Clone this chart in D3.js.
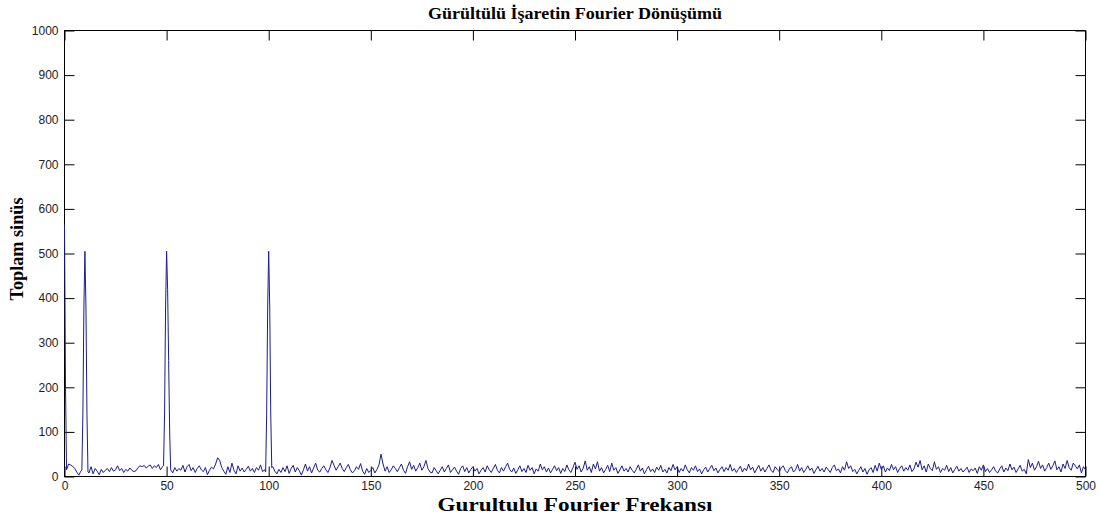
<!DOCTYPE html>
<html>
<head>
<meta charset="utf-8">
<script src="https://cdn.jsdelivr.net/npm/d3@7"></script>
<style>
  html, body { margin: 0; padding: 0; background: #fff; }
  svg { display: block; }
  .tick text { font-family: "Liberation Sans", Arial, sans-serif; font-size: 12px; fill: #222; }
</style>
</head>
<body>
<svg id="chart" width="1100" height="519"></svg>
<script>
// Noise floor of the spectrum, one value per Hz (0..500)
const noiseMagnitude = [
  20, 15, 28, 26, 23, 18, 10, 3, 12, 20, 20, 20, 8, 22, 6, 18, 12, 4, 16, 9, 14, 18, 11, 20, 12,
  15, 24, 13, 18, 9, 16, 12, 19, 14, 11, 13, 20, 24, 22, 25, 19, 23, 26, 18, 24, 20, 27, 15, 22, 25,
  20, 15, 15, 8, 20, 12, 18, 14, 25, 10, 22, 27, 13, 20, 9, 18, 24, 15, 11, 20, 4, 14, 21, 17, 28,
  42, 36, 20, 12, 5, 22, 9, 30, 14, 6, 24, 12, 19, 10, 16, 23, 12, 18, 9, 20, 14, 26, 11, 15, 10,
  20, 15, 22, 12, 6, 16, 9, 20, 11, 24, 7, 18, 25, 10, 20, 13, 3, 15, 28, 12, 22, 8, 19, 30, 14,
  10, 18, 24, 15, 9, 20, 36, 25, 14, 22, 30, 18, 11, 20, 27, 15, 8, 13, 22, 16, 29, 12, 5, 18, 9,
  14, 20, 8, 16, 26, 50, 28, 12, 22, 9, 15, 24, 18, 11, 20, 28, 14, 7, 22, 33, 16, 25, 12, 20, 30,
  14, 22, 36, 18, 10, 8, 20, 13, 6, 14, 22, 10, 18, 26, 9, 15, 21, 12, 5, 18, 24, 11, 20, 8, 16,
  22, 12, 18, 6, 14, 20, 10, 24, 15, 9, 18, 27, 14, 8, 20, 12, 22, 30, 16, 10, 19, 7, 15, 24, 11,
  18, 9, 25, 14, 20, 6, 17, 12, 28, 15, 22, 10, 19, 8, 16, 24, 13, 20, 7, 18, 11, 26, 15, 9, 20,
  32, 16, 24, 10, 18, 35, 14, 22, 9, 28, 17, 33, 12, 20, 8, 16, 25, 11, 30, 14, 20, 7, 15, 24, 12,
  18, 10, 22, 14, 8, 16, 26, 12, 19, 6, 15, 23, 11, 17, 9, 21, 14, 25, 10, 16, 8, 20, 13, 27, 15,
  22, 9, 18, 12, 26, 15, 8, 20, 14, 24, 11, 17, 6, 15, 21, 10, 18, 25, 13, 19, 8, 16, 22, 11, 20,
  14, 27, 12, 18, 9, 16, 23, 10, 19, 13, 28, 15, 21, 8, 17, 25, 12, 20, 10, 18, 26, 14, 9, 22, 16,
  11, 19, 24, 13, 8, 17, 22, 10, 15, 27, 12, 20, 9, 16, 24, 14, 19, 7, 15, 23, 12, 18, 10, 21, 15,
  9, 20, 26, 13, 17, 8, 22, 14, 33, 18, 24, 11, 16, 6, 14, 22, 10, 18, 5, 15, 20, 9, 25, 12, 30,
  16, 24, 10, 19, 13, 27, 15, 22, 9, 18, 24, 12, 20, 14, 26, 11, 17, 32, 21, 36, 15, 24, 10, 28, 18,
  13, 33, 16, 22, 9, 18, 14, 25, 11, 20, 8, 16, 23, 12, 18, 10, 15, 21, 9, 17, 13, 19, 7, 22, 14,
  26, 11, 18, 9, 15, 22, 12, 8, 17, 24, 10, 19, 13, 28, 15, 21, 9, 17, 25, 12, 16, 6, 38, 20, 30,
  14, 22, 34, 18, 26, 12, 20, 30, 16, 24, 35, 15, 22, 10, 28, 18, 36, 20, 14, 30, 24, 17, 26, 8, 22, 15
];

// Sinusoid peaks, sampled at half-Hz steps around each component
const peakFreqs = [
  [0, 0.5, 1],
  [8.5, 9, 9.5, 10, 10.5, 11, 11.5],
  [48.5, 49, 49.5, 50, 50.5, 51, 51.5, 52],
  [98.5, 99, 99.5, 100, 100.5, 101, 101.5]
];
const peakValues = [
  [565, 200, 15],
  [15, 140, 380, 505, 380, 140, 10],
  [25, 140, 380, 505, 420, 260, 100, 15],
  [10, 140, 380, 505, 380, 140, 20]
];

const xTicks = [0, 50, 100, 150, 200, 250, 300, 350, 400, 450, 500];
const yTicks = [0, 100, 200, 300, 400, 500, 600, 700, 800, 900, 1000];

const titleText = "Gürültülü İşaretin Fourier Dönüşümü";
const xLabelText = "Gurultulu Fourier Frekansı";
const yLabelText = "Toplam sinüs";

// Combine the noise floor with the peak samples into one sorted series
const peakRanges = peakFreqs.map(f => [d3.min(f), d3.max(f)]);
const series = [];
noiseMagnitude.forEach((v, i) => {
  if (!peakRanges.some(([a, b]) => i >= a && i <= b)) series.push([i, v]);
});
peakFreqs.forEach((f, k) => f.forEach((fx, j) => series.push([fx, peakValues[k][j]])));
series.sort((a, b) => a[0] - b[0]);

const svg = d3.select("#chart");
const plotLeft = 64.5, plotRight = 1085.5, plotTop = 30.5, plotBottom = 476.5;

const x = d3.scaleLinear().domain([0, 500]).range([plotLeft, plotRight]);
const y = d3.scaleLinear().domain([0, 1000]).range([plotBottom, plotTop]);

svg.append("defs").append("clipPath").attr("id", "plotClip")
  .append("rect").attr("x", plotLeft - 1).attr("y", plotTop)
  .attr("width", plotRight - plotLeft + 2).attr("height", plotBottom - plotTop + 1);

// Axes with inward ticks, box style
const tickLen = 10;
const fmt = d3.format("d");
const bottomAxis = d3.axisBottom(x).tickValues(xTicks).tickSizeInner(-tickLen).tickSizeOuter(0).tickPadding(5).tickFormat(fmt);
const topAxis = d3.axisTop(x).tickValues(xTicks).tickSizeInner(-tickLen).tickSizeOuter(0).tickFormat("");
const leftAxis = d3.axisLeft(y).tickValues(yTicks).tickSizeInner(-tickLen).tickSizeOuter(0).tickPadding(6).tickFormat(fmt);
const rightAxis = d3.axisRight(y).tickValues(yTicks).tickSizeInner(-tickLen).tickSizeOuter(0).tickFormat("");

function styleAxis(g) {
  g.select(".domain").remove();
  g.selectAll(".tick line").attr("stroke", "#000").attr("stroke-width", 1);
}

svg.append("g").attr("transform", `translate(0,${plotBottom})`).call(bottomAxis).call(styleAxis);
svg.append("g").attr("transform", `translate(0,${plotTop})`).call(topAxis).call(styleAxis);
svg.append("g").attr("transform", `translate(${plotLeft},0)`).call(leftAxis).call(styleAxis);
svg.append("g").attr("transform", `translate(${plotRight},0)`).call(rightAxis).call(styleAxis);

// Frame
svg.append("rect")
  .attr("x", plotLeft).attr("y", plotTop)
  .attr("width", plotRight - plotLeft).attr("height", plotBottom - plotTop)
  .attr("fill", "none").attr("stroke", "#000").attr("stroke-width", 1);

// Data line, drawn over the frame
svg.append("path")
  .datum(series)
  .attr("clip-path", "url(#plotClip)")
  .attr("fill", "none")
  .attr("stroke", "#1c1c8e")
  .attr("stroke-width", 1)
  .attr("stroke-linejoin", "miter")
  .attr("d", d3.line().x(d => x(d[0])).y(d => y(d[1])));

const serif = "'Liberation Serif', 'Times New Roman', serif";

svg.append("text")
  .attr("x", (plotLeft + plotRight) / 2).attr("y", 19)
  .attr("text-anchor", "middle")
  .attr("font-family", serif).attr("font-weight", "bold").attr("font-size", 16)
  .attr("textLength", 294).attr("lengthAdjust", "spacingAndGlyphs")
  .attr("fill", "#000")
  .text(titleText);

svg.append("text")
  .attr("x", (plotLeft + plotRight) / 2).attr("y", 511)
  .attr("text-anchor", "middle")
  .attr("font-family", serif).attr("font-weight", "bold").attr("font-size", 19)
  .attr("textLength", 275).attr("lengthAdjust", "spacingAndGlyphs")
  .attr("fill", "#000")
  .text(xLabelText);

svg.append("text")
  .attr("transform", `translate(23,249) rotate(-90)`)
  .attr("text-anchor", "middle")
  .attr("font-family", serif).attr("font-weight", "bold").attr("font-size", 19)
  .attr("textLength", 103).attr("lengthAdjust", "spacingAndGlyphs")
  .attr("fill", "#000")
  .text(yLabelText);
</script>
</body>
</html>
